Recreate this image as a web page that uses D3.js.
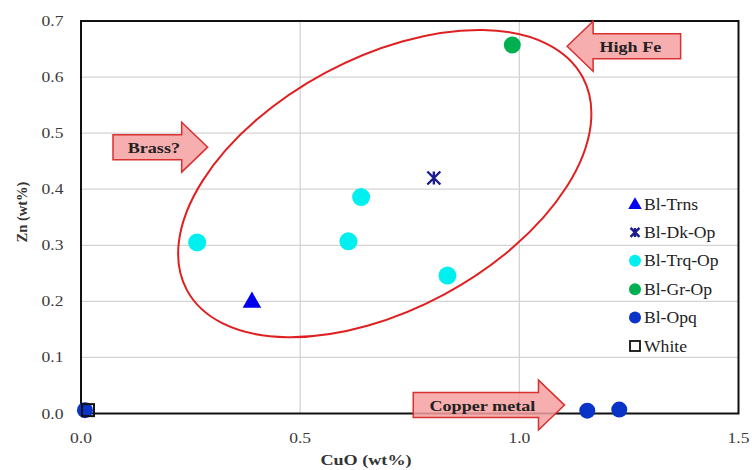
<!DOCTYPE html>
<html><head><meta charset="utf-8">
<script src="https://cdn.jsdelivr.net/npm/d3@7"></script>
<style>body{margin:0;background:#fff}svg{display:block}</style>
</head><body><svg id="c" width="752" height="470"></svg>
<script>
const xTicks = [0, 0.5, 1.0, 1.5];
const yTicks = [0, 0.1, 0.2, 0.3, 0.4, 0.5, 0.6, 0.7];
const seriesNames = ["Bl-Trns", "Bl-Dk-Op", "Bl-Trq-Op", "Bl-Gr-Op", "Bl-Opq", "White"];
const blTrns = [[0.39, 0.20]];
const blDkOp = [[0.805, 0.42]];
const blTrqOp = [[0.265, 0.305], [0.61, 0.307], [0.639, 0.386], [0.836, 0.246]];
const blGrOp = [[0.984, 0.657]];
const blOpq = [[0.009, 0.006], [1.155, 0.005], [1.228, 0.007]];
const white = [[0.016, 0.006]];
// annotation ellipse (data units): center, half-axes, rotation
const ellipseCenter = [0.693, 0.41];
const ellipseHalfAxes = [0.5126, 0.2243];
const ellipseAngle = 28.3;
const callouts = [
  {text: "Brass?", x0: 0.073, x1: 0.289, y: 0.475, dir: "right"},
  {text: "High Fe", x0: 1.368, x1: 1.109, y: 0.655, dir: "left"},
  {text: "Copper metal", x0: 0.758, x1: 1.103, y: 0.015, dir: "right"}
];

const svg = d3.select("#c");
const L = 81, R = 738.5, T = 21, B = 413.5;
const x = d3.scaleLinear().domain([0, 1.5]).range([L, R]);
const y = d3.scaleLinear().domain([0, 0.7]).range([B, T]);
const serif = "Liberation Serif";
const SX = 1.17; // horizontal stretch of the reference's text

function label(parent, tx, ty, str, opts) {
  const o = Object.assign({size: 15, weight: "normal", anchor: "start", fill: "#333", sx: SX}, opts || {});
  return parent.append("text").attr("transform", `translate(${tx},${ty}) scale(${o.sx},1)`)
    .attr("text-anchor", o.anchor).style("font-family", serif).style("font-size", o.size + "px")
    .attr("font-weight", o.weight).attr("fill", o.fill).text(str);
}

// grid
svg.append("g").selectAll("line").data(xTicks.slice(1, -1)).join("line")
  .attr("x1", d => x(d)).attr("x2", d => x(d)).attr("y1", T).attr("y2", B)
  .attr("stroke", "#d4d4d4").attr("stroke-width", 1.3);
svg.append("g").selectAll("line").data(yTicks.slice(1, -1)).join("line")
  .attr("y1", d => y(d)).attr("y2", d => y(d)).attr("x1", L).attr("x2", R)
  .attr("stroke", "#d4d4d4").attr("stroke-width", 1.3);

// frame
svg.append("rect").attr("x", L).attr("y", T).attr("width", R - L).attr("height", B - T)
  .attr("fill", "none").attr("stroke", "#111").attr("stroke-width", 2);

// tick labels
const fmt = d3.format(".1f");
const tg = svg.append("g");
xTicks.forEach(v => label(tg, x(v), 443, fmt(v), {anchor: "middle", size: 15, fill: "#3a3a3a"}));
yTicks.forEach(v => label(tg, 63.5, y(v) + 5, fmt(v), {anchor: "end", size: 15, fill: "#3a3a3a"}));

// axis titles
label(svg, 366, 465, "CuO (wt%)", {anchor: "middle", size: 15.5, weight: "bold"});
svg.append("text").attr("transform", `translate(27,212) rotate(-90)`).attr("text-anchor", "middle")
  .style("font-family", serif).attr("font-weight", "bold").style("font-size", "14.5px").attr("fill", "#333")
  .text("Zn (wt%)");

// ellipse
const ecx = x(ellipseCenter[0]), ecy = y(ellipseCenter[1]);
svg.append("ellipse").attr("cx", ecx).attr("cy", ecy)
  .attr("rx", x(ellipseHalfAxes[0]) - x(0)).attr("ry", y(0) - y(ellipseHalfAxes[1]))
  .attr("transform", `rotate(${-ellipseAngle},${ecx},${ecy})`)
  .attr("fill", "none").attr("stroke", "#e02020").attr("stroke-width", 2);

// markers
const sym = (type, size) => d3.symbol().type(type).size(size)();
const mk = svg.append("g");
mk.selectAll(".trq").data(blTrqOp).join("circle").attr("cx", d => x(d[0])).attr("cy", d => y(d[1]))
  .attr("r", 9).attr("fill", "#00f0f0");
mk.selectAll(".gr").data(blGrOp).join("circle").attr("cx", d => x(d[0])).attr("cy", d => y(d[1]))
  .attr("r", 8.5).attr("fill", "#00b050");
mk.selectAll(".opq").data(blOpq).join("circle").attr("cx", d => x(d[0])).attr("cy", d => y(d[1]))
  .attr("r", 8).attr("fill", "#0a34c8");
mk.selectAll(".wh").data(white).join("rect").attr("x", d => x(d[0]) - 6).attr("y", d => y(d[1]) - 6)
  .attr("width", 12).attr("height", 12).attr("fill", "none").attr("stroke", "#111").attr("stroke-width", 2);
mk.selectAll(".tr").data(blTrns).join("path").attr("d", sym(d3.symbolTriangle, 150))
  .attr("transform", d => `translate(${x(d[0])},${y(d[1]) + 1})`).attr("fill", "#0000ee");
function star(g, s) {
  g.append("path").attr("d", `M${-s},${-s}L${s},${s}M${-s},${s}L${s},${-s}M0,${-s}V${s}`)
   .attr("stroke", "#1c1c8c").attr("stroke-width", 2.4).attr("fill", "none");
}
blDkOp.forEach(d => star(mk.append("g").attr("transform", `translate(${x(d[0])},${y(d[1])})`), 6.5));

// callout arrows
function arrowPath(c) {
  const xa0 = x(c.x0), xa1 = x(c.x1), yc = y(c.y);
  const sgn = c.dir === "right" ? 1 : -1;
  const hl = 26 * sgn, bh = 12.5, hh = 25;
  const xh = xa1 - hl;
  return `M${xa0},${yc - bh}L${xh},${yc - bh}L${xh},${yc - hh}L${xa1},${yc}L${xh},${yc + hh}L${xh},${yc + bh}L${xa0},${yc + bh}Z`;
}
const cg = svg.append("g");
callouts.forEach(c => {
  cg.append("path").attr("d", arrowPath(c)).attr("fill", "#f6a0a0").attr("fill-opacity", 0.85)
    .attr("stroke", "#d93030").attr("stroke-width", 1.5);
  const sgn = c.dir === "right" ? 1 : -1;
  const mid = (x(c.x0) + x(c.x1) - 13 * sgn) / 2;
  label(cg, mid, y(c.y) + 5.5, c.text, {anchor: "middle", size: 15.5, weight: "bold", fill: "#222"});
});

// legend
const lg = svg.append("g").attr("transform", "translate(635,204)");
const dy = 28.4;
seriesNames.forEach((n, i) => {
  const g = lg.append("g").attr("transform", `translate(0,${i * dy})`);
  if (n === "Bl-Trns") g.append("path").attr("d", sym(d3.symbolTriangle, 80)).attr("fill", "#0000ee").attr("transform", "translate(0,1)");
  else if (n === "Bl-Dk-Op") star(g, 4.5);
  else if (n === "Bl-Trq-Op") g.append("circle").attr("r", 6).attr("fill", "#00f0f0");
  else if (n === "Bl-Gr-Op") g.append("circle").attr("r", 6).attr("fill", "#00b050");
  else if (n === "Bl-Opq") g.append("circle").attr("r", 6).attr("fill", "#0a34c8");
  else g.append("rect").attr("x", -5).attr("y", -5).attr("width", 10).attr("height", 10)
    .attr("fill", "none").attr("stroke", "#111").attr("stroke-width", 1.8);
  label(g, 9, 5.5, n, {size: 16, fill: "#222", sx: 1.1});
});
</script></body></html>
